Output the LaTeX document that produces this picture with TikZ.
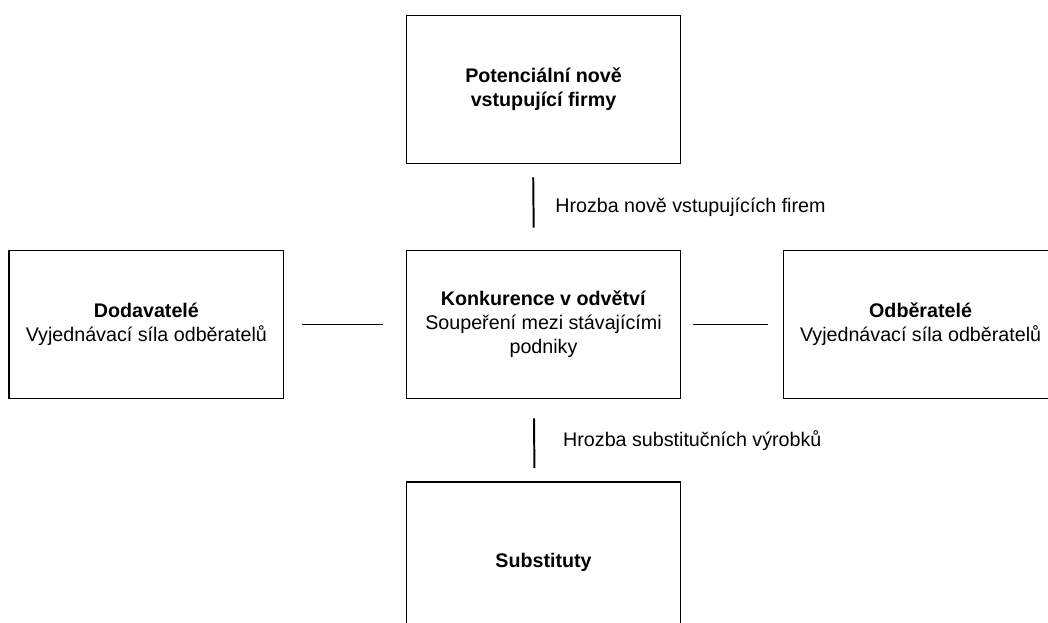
\documentclass[tikz,border=0pt]{standalone}
\usepackage{fontspec}
\setmainfont{Liberation Sans}
\usetikzlibrary{positioning}
\newcommand{\myTextSize}{\fontsize{14}{17}\selectfont}

\begin{document}
\begin{tikzpicture}[x=0.025cm,y=-0.025cm,thick,
	Box/.style={rectangle,fill=white,draw=black,line width=1.3pt,minimum width=6.85cm,minimum height=3.7cm,align=center,font=\myTextSize},
	Title/.style={font=\myTextSize\bfseries},
	Link/.style={black,line width=1.4pt},
	Threat/.style={right,inner sep=0pt,font=\myTextSize},
]
	\useasboundingbox (0,0) rectangle (1048,623);
	\clip (0,0) rectangle (1048,623);

	\node[Box] (Center) at (543.5,324.5){\textbf{Konkurence v odvětví}\\Soupeření mezi stávajícími\\podniky};
	\node[Box, Title] (Top)[above of= Center, node distance=5.875cm]{Potenciální nově\\vstupující firmy};
	\node[Box] (Left)[left of= Center, node distance=9.925cm]{\textbf{Dodavatelé}\\Vyjednávací síla odběratelů};
	\node[Box] (Right)[right of= Center, node distance=9.425cm]{\textbf{Odběratelé}\\Vyjednávací síla odběratelů};
	\node[Box, Title, minimum height=4cm] (Bottom)[below of= Center, node distance=5.94cm]{Substituty};

	\draw[Link, shorten <=0.325cm, shorten >=0.55cm]
	([xshift=-0.26cm]Top.south) -- node[Threat, xshift=0.52cm]{Hrozba nově vstupujících firem} ([xshift=-0.24cm]Center.north);
	\draw[Link, shorten <=0.475cm, shorten >=0.325cm]
	([xshift=-0.24cm]Center.south) -- node[Threat, xshift=0.7cm]{Hrozba substitučních výrobků} ([xshift=-0.225cm]Bottom.north);
	\draw[Link, shorten <=0.45cm, shorten >=0.575cm] (Left) -- (Center);
	\draw[Link, shorten <=0.3cm, shorten >=0.375cm] (Center) -- (Right);
\end{tikzpicture}
\end{document}
